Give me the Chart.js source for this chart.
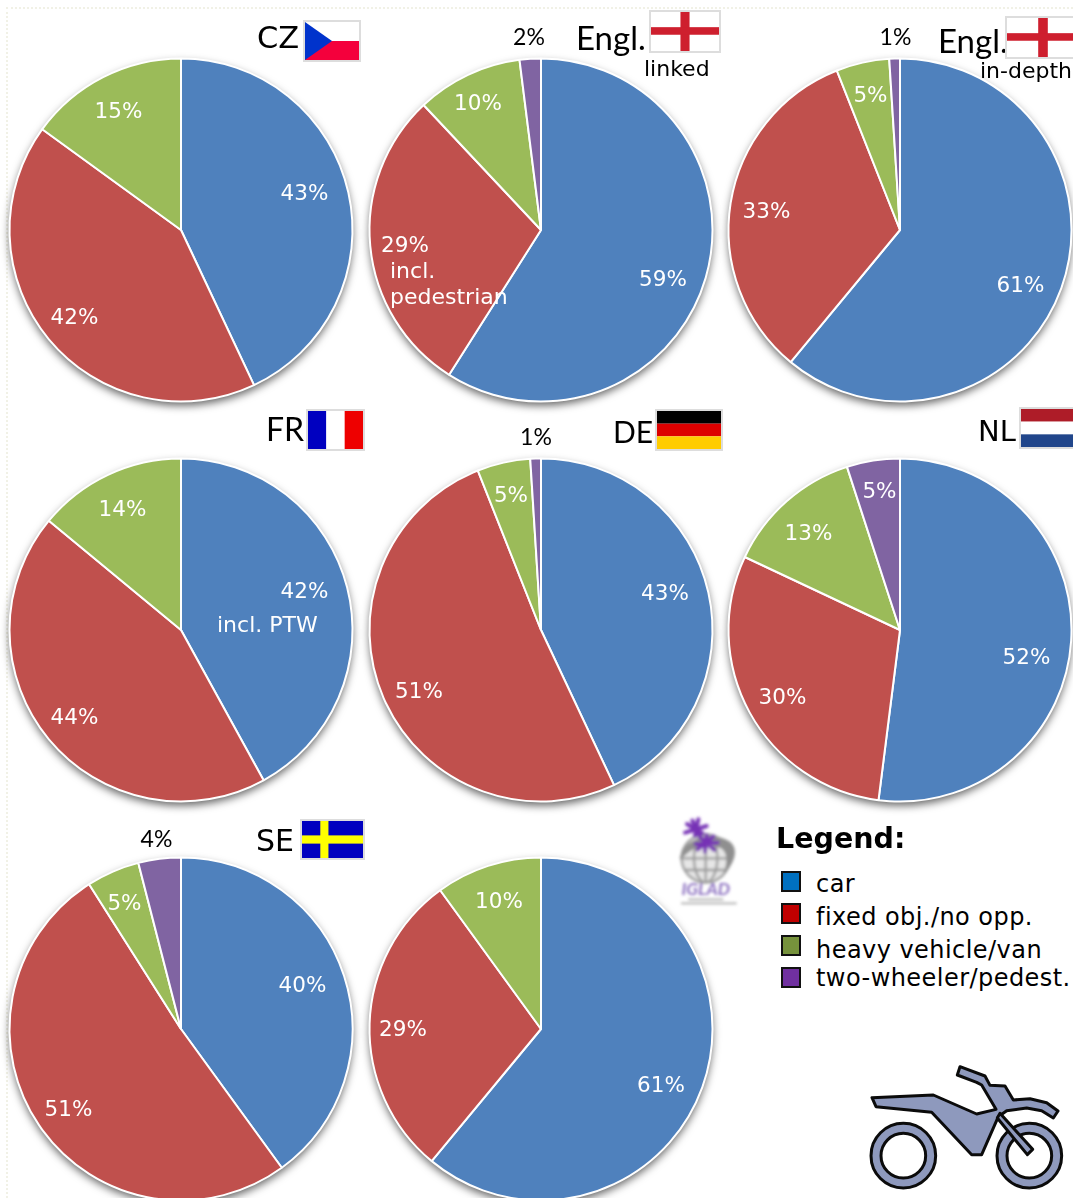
<!DOCTYPE html>
<html><head><meta charset="utf-8">
<script src="https://cdn.jsdelivr.net/npm/chart.js@4/dist/chart.umd.min.js"></script>
<style>
html,body{margin:0;padding:0;background:#fff;width:1073px;height:1198px;overflow:hidden}
#stage{position:relative;width:1073px;height:1198px;overflow:hidden}
#frame{position:absolute;left:6px;top:7px;width:1067px;height:1191px;border-left:2px dotted #f1f1e6;border-top:2px dotted #f1f1e6;box-sizing:border-box}
canvas{position:absolute}
.t{position:absolute;white-space:nowrap;line-height:1;color:#000;font-family:"DejaVu Sans"}
.w{color:#fff;font-size:22px}
.flag{position:absolute;box-sizing:border-box;border:2px solid #ddd;overflow:hidden;display:block}
.sw{position:absolute;box-sizing:border-box;left:781px;width:20px;height:21px;border:2px solid #111}
.lg{position:absolute;left:816px;font:24px "DejaVu Sans";letter-spacing:.45px;line-height:1;white-space:nowrap;color:#000}
svg{position:absolute}
</style></head><body>
<div id="stage"><div id="frame"></div></div>
<script>
const categories = ["car","fixed obj./no opp.","heavy vehicle/van","two-wheeler/pedest."];
const panelNames = ["CZ","Engl. linked","Engl. in-depth","FR","DE","NL","SE","IGLAD"];
const czValues = [43,42,15,0];
const englLinkedValues = [59,29,10,2];
const englInDepthValues = [61,33,5,1];
const frValues = [42,44,14,0];
const deValues = [43,51,5,1];
const nlValues = [52,30,13,5];
const seValues = [40,51,5,4];
const igladValues = [61,29,10,0];
const sliceColors = ["#4F81BD","#C0504D","#9BBB59","#8064A2"];
const legendColors = ["#0070C0","#C00000","#76923C","#7030A0"];

// layout only
const centers = [[181,230],[540.5,230],[900,230],[181,630],[540.5,630],[900,630],[181,1029],[540.5,1029]];
const labelSpots = [
 [[304.5,194],[74.5,318],[118.5,112],null],
 [[662.5,280],[404.5,246],[477.5,104],[528.5,38]],
 [[1020.5,286],[766.5,212],[870.5,96],[895.5,38]],
 [[304.5,592],[74.5,718],[122.5,510],null],
 [[664.5,594],[418.5,692],[510.5,496],[535.5,438]],
 [[1026.5,658],[782.5,698],[808.5,534],[879.5,492]],
 [[302.5,986],[68.5,1110],[124.5,904],[156.5,840]],
 [[660.5,1086],[402.5,1030],[498.5,902],null]
];
const allValues = [czValues,englLinkedValues,englInDepthValues,frValues,deValues,nlValues,seValues,igladValues];
const SIZE = 420, R = 171.5;

const pieShadow = {
  id:'pieShadow',
  beforeDatasetsDraw(chart){
    const arc = chart.getDatasetMeta(0).data[0];
    const c = chart.ctx;
    c.save();
    c.shadowColor='rgba(0,0,0,.62)'; c.shadowBlur=8; c.shadowOffsetY=4;
    c.fillStyle='#fff';
    c.beginPath(); c.arc(arc.x,arc.y,R,0,Math.PI*2); c.fill();
    c.restore();
  }
};
const pctLabels = {
  id:'pctLabels',
  afterDatasetsDraw(chart,args,opts){
    const c = chart.ctx, vals = chart.data.datasets[0].data;
    c.save();
    c.textAlign='center'; c.textBaseline='middle';
    vals.forEach((v,i)=>{
      const p = opts.spots[i]; if(!p) return;
      const outside = Math.hypot(p[0]-opts.cx,p[1]-opts.cy) > R;
      c.fillStyle = outside ? '#000' : '#fff';
      c.font = outside ? '23px Lato' : '21.5px "DejaVu Sans"';
      c.fillText(v+'%', p[0]-(opts.cx-SIZE/2), p[1]-(opts.cy-SIZE/2));
    });
    c.restore();
  }
};
const stage = document.getElementById('stage');
allValues.forEach((vals,k)=>{
  const [cx,cy] = centers[k];
  const cv = document.createElement('canvas');
  cv.width = SIZE; cv.height = SIZE;
  cv.style.cssText = `left:${cx-SIZE/2}px;top:${cy-SIZE/2}px;width:${SIZE}px;height:${SIZE}px`;
  cv.setAttribute('aria-label',panelNames[k]);
  stage.appendChild(cv);
  new Chart(cv,{
    type:'pie',
    data:{labels:categories,datasets:[{data:vals,backgroundColor:sliceColors,borderColor:'#fff',borderWidth:2,radius:R}]},
    options:{responsive:false,animation:false,events:[],layout:{padding:0},
      plugins:{legend:{display:false},tooltip:{enabled:false},title:{display:false},
        pctLabels:{spots:labelSpots[k],cx,cy}}},
    plugins:[pieShadow,pctLabels]
  });
});

function txt(s,x,y,css,cls){
  const d=document.createElement('div'); d.className='t '+(cls||''); d.textContent=s;
  d.style.cssText=`left:${x}px;top:${y}px;`+(css||''); stage.appendChild(d); return d;
}
// panel titles
txt("CZ",257,23,'font-size:30.5px');
txt("Engl.",576,17,'font:33px Lato');
txt("linked",644,58,'font-size:22px');
txt("Engl.",938,20,'font:33px Lato');
txt("FR",266,409,'font:32px Lato');
txt("DE",613,413,'font:30px Lato');
txt("NL",978,417,'font-size:29px');
txt("SE",256,826,'font-size:30px');
// extra notes on slices
txt("incl.",390,260,'','w');
txt("pedestrian",390,286,'','w');
txt("incl. PTW",217,614,'','w');
// legend
txt("Legend:",776,822,'font:bold 28.5px "DejaVu Sans"');
const swTop=[871,903,935,967], lgTop=[872,905,938,966];
categories.forEach((c,i)=>{
  const s=document.createElement('div'); s.className='sw';
  s.style.top=swTop[i]+'px'; s.style.background=legendColors[i]; stage.appendChild(s);
  const l=document.createElement('div'); l.className='lg'; l.style.top=lgTop[i]+'px'; l.textContent=c; stage.appendChild(l);
});
// flags
function flag(x,y,w,h,inner){
  const a=document.createElementNS('http://www.w3.org/2000/svg','svg');
  a.setAttribute('viewBox','0 0 60 36'); a.setAttribute('preserveAspectRatio','none');
  a.style.cssText='left:0;top:0;width:100%;height:100%';
  a.innerHTML=inner;
  const d=document.createElement('div'); d.className='flag';
  d.style.cssText=`left:${x}px;top:${y}px;width:${w}px;height:${h}px`;
  d.appendChild(a); stage.appendChild(d);
}
const eng='<rect width="60" height="36" fill="#fff"/><rect x="26" width="8" height="36" fill="#CE1F2E"/><rect y="14" width="60" height="7" fill="#CE1F2E"/>';
flag(303,20,58,42,'<rect width="60" height="18" fill="#fff"/><rect y="18" width="60" height="18" fill="#F4003C"/><path d="M0 0L30 18L0 36Z" fill="#0033CC"/>');
flag(649,10,72,43,eng);
flag(1005,16,76,43,eng);
flag(306,409,59,42,'<rect width="20" height="36" fill="#0000C0"/><rect x="20" width="20" height="36" fill="#fff"/><rect x="40" width="20" height="36" fill="#EE0000"/>');
flag(655,409,68,42,'<rect width="60" height="12" fill="#000"/><rect y="12" width="60" height="12" fill="#DD0000"/><rect y="24" width="60" height="12" fill="#FFCC00"/>');
flag(1019,407,62,42,'<rect width="60" height="12" fill="#AE1C28"/><rect y="12" width="60" height="12" fill="#fff"/><rect y="24" width="60" height="12" fill="#21468B"/>');
flag(300,819,65,41,'<rect width="60" height="36" fill="#0000C0"/><rect x="18" width="8" height="36" fill="#FFFF00"/><rect y="14" width="60" height="8" fill="#FFFF00"/>');
// in-depth sublabel above flag
txt("in-depth",980,60,'font-size:22px');
// decorations
const deco=document.createElement('div');
deco.innerHTML=`
<svg style="left:850px;top:1050px;width:223px;height:148px" viewBox="0 0 669 444">
 <g stroke="#0b0b0b" stroke-width="9" stroke-linejoin="round" fill="#8E99BD">
  <circle cx="160" cy="317" r="97"/><circle cx="160" cy="317" r="67" fill="#fff"/>
  <circle cx="538" cy="317" r="97"/><circle cx="538" cy="317" r="67" fill="#fff"/>
  <path d="M322 75L330 50L405 78L420 106L465 108L490 150L540 146L590 158L624 183L610 204L575 182L530 174L470 182L445 200L395 314L365 314L245 187L78 170L66 143L250 135L380 192L438 178L395 105L380 97Z"/>
  <path d="M450 190L548 298L532 314L442 204Z"/>
 </g>
</svg>
<svg style="left:665px;top:810px;width:80px;height:100px" viewBox="0 0 240 300">
 <defs><filter id="b" x="-20%" y="-20%" width="140%" height="140%"><feGaussianBlur stdDeviation="4.5"/></filter></defs>
 <g filter="url(#b)">
  <circle cx="122" cy="145" r="75" fill="#e6e6e6"/>
  <g stroke="#9c9c9c" stroke-width="7" fill="none">
   <circle cx="122" cy="145" r="72"/><ellipse cx="122" cy="145" rx="35" ry="72"/>
   <path d="M50 145H194M60 110H185M60 180H185M122 73V217"/>
  </g>
  <path d="M45 150C45 95 130 55 195 95C225 120 205 165 175 195C190 150 190 115 150 108C110 95 75 120 45 150Z" fill="#8f8f8f"/>
  <g stroke="#7630B5" stroke-width="12" stroke-linecap="round">
   <path d="M100 28L90 78M66 42L112 70M60 68L125 48M82 32L105 80"/>
   <path d="M145 80L98 118M105 82L148 120M92 102L158 98M125 76L120 125"/>
  </g>
  <text x="122" y="255" text-anchor="middle" font-family="Lato" font-style="italic" font-weight="700" font-size="52" fill="#8B6FC0">IGLAD</text>
  <path d="M70 268H175M48 280H215" stroke="#aaa" stroke-width="5"/>
 </g>
</svg>`;
stage.appendChild(deco);
</script>
</body></html>
